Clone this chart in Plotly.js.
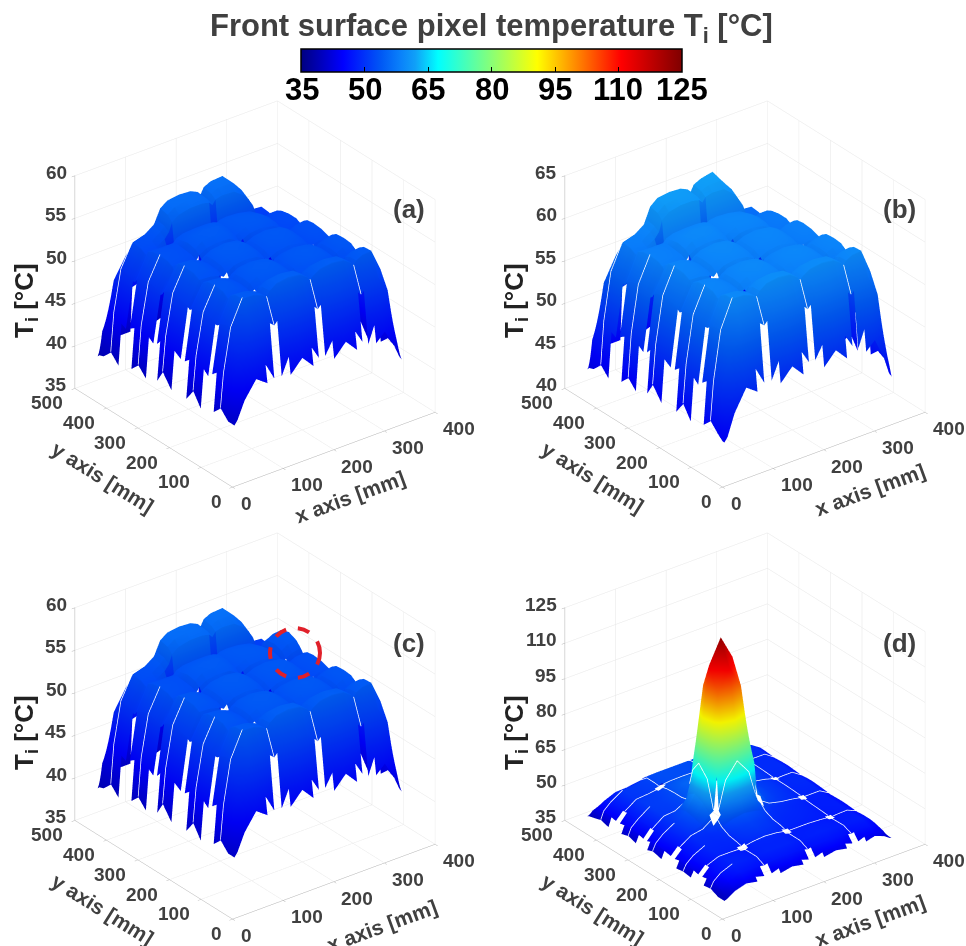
<!DOCTYPE html>
<html><head><meta charset="utf-8">
<script src="https://cdn.plot.ly/plotly-3.0.1.min.js"></script>
<style>html,body{margin:0;padding:0;background:#fff}</style></head>
<body><div id="g" style="width:966px;height:946px"></div>
<script>
var n=null;
var xNodes=[15,21,35,58,81,98,106,112,126,149,172,186,192,198,212,235,258,272,278,283,295,312,330,340,345];
var yNodes=[18,24,38,61.5,85,99,105,111,125,148.5,172,186,192,198,218,245,264,274,279,285,299,322.5,346,360,366,372,386,409.5,433,447,453];
var zA=[
[41.5,42,44,46,45,n,n,n,45,46.5,45,n,n,n,45,46.5,45,n,n,n,45,46,44,42.5,42],
[41.5,43,45.5,47.5,47,45,n,45,47,48,47,45.5,n,45.5,47,48,47,45.5,n,45,47,47.5,46,44,42.5],
[41.5,45,49,51.8,51.6,51.2,50.8,51.2,51.8,52.2,51.8,51.2,50.8,51.2,51.8,52,51.6,51,50.6,51,51.5,51.8,50,46,43],
[42.5,46.5,51.5,54.5,54.4,54,53.6,54.2,54.8,55,54.8,54.2,53.7,54.1,54.6,54.8,54.6,54,53.5,54,54.4,54.5,52,47,43.5],
[41.5,46,51.3,54.4,54.3,53.9,53.5,54.1,54.7,54.9,54.7,54.1,53.6,54,54.5,54.7,54.5,53.9,53.4,53.9,54.3,54.4,51.8,46.5,42.5],
[n,45.5,51,54,53.9,53.5,53.1,53.7,54.2,54.4,54.2,53.7,53.2,53.6,54,54.2,54,53.5,53,53.5,53.9,54,51.5,46,n],
[n,n,50.8,53.5,53.4,53,n,53.1,53.6,53.8,53.6,53.1,n,53.1,53.4,53.6,53.4,53,n,53,53.3,53.5,51,n,n],
[n,45,50.8,53.5,53.4,53.1,52.8,53.2,53.7,53.9,53.7,53.2,52.8,53.2,53.5,53.7,53.5,53.1,52.7,53,53.3,53.5,51,45.8,n],
[41,45.5,51,53.9,53.8,53.4,53.1,53.6,54.1,54.3,54.1,53.6,53.1,53.5,53.9,54.1,53.9,53.4,53,53.4,53.8,53.9,51.3,46,42],
[42.5,46.5,51.3,54,53.9,53.5,53.2,53.7,54.3,54.5,54.3,53.7,53.3,53.6,54.1,54.3,54.1,53.5,53.1,53.5,53.9,54,51.5,47,43.5],
[41,45.5,51,53.9,53.8,53.4,53.1,53.6,54.1,54.3,54.1,53.6,53.1,53.5,53.9,54.1,53.9,53.4,53,53.4,53.8,53.9,51.3,46,42],
[n,45,50.8,53.5,53.4,53.1,52.8,53.2,53.7,53.9,53.7,53.2,52.8,53.2,53.5,53.7,53.5,53.1,52.7,53,53.3,53.5,51,45.8,n],
[n,n,50.6,53,52.9,52.6,n,52.7,53.3,53.6,53.3,52.8,n,52.8,53.2,53.4,53.1,52.7,n,52.4,52.8,53,50.6,n,n],
[n,45,50.8,53.5,53.4,53.1,52.8,53.2,53.7,53.9,53.7,53.2,52.8,53.1,53.5,53.7,53.4,53,52.6,52.7,53,53.1,50.6,45.6,n],
[41,45.5,51,53.9,53.8,53.4,53.1,53.6,54.1,54.3,54.1,53.6,53.1,53.5,53.9,54,53.8,53.3,52.8,53,53.3,53.4,51,46,42],
[42.5,46.5,51.3,54,53.9,53.5,53.2,53.7,54.3,54.5,54.3,53.7,53.2,53.6,54,54.2,54,53.4,52.9,53.1,53.4,53.5,51.2,47,43.5],
[41,45.5,51,53.9,53.8,53.4,53.1,53.6,54.1,54.3,54.1,53.6,53.1,53.5,53.9,54,53.8,53.3,52.8,53,53.3,53.4,51,46,42],
[n,45,50.8,53.5,53.4,53.1,52.8,53.2,53.7,53.9,53.7,53.2,52.8,53.1,53.5,53.7,53.4,53,52.6,52.7,53,53.1,50.6,45.6,n],
[n,n,50.4,52.8,52.7,52.6,n,52.8,53.3,53.6,53.3,52.8,n,52.7,53.2,53.4,53,52.4,n,52,52.3,52.4,50,n,n],
[n,44.8,50.2,53.1,53,52.8,52.7,53.2,53.7,53.9,53.8,53.3,52.9,53.2,53.6,53.7,53.4,52.9,52.4,52.3,52.4,52.5,50.2,45.3,n],
[40.5,45.2,50.5,53.4,53.3,53.1,53,53.6,54.2,54.4,54.2,53.7,53.4,53.6,54,54.1,53.8,53.2,52.6,52.5,52.7,52.8,50.5,45.7,41.5],
[41.5,46,50.8,53.5,53.4,53.2,53.1,53.8,54.3,54.5,54.4,54,53.7,53.9,54.2,54.2,53.9,53.3,52.7,52.6,52.8,52.8,50.6,46.5,43],
[40.5,45.2,50.5,53.4,53.3,53.2,53.2,53.6,53.9,54.1,54.1,54,53.8,54,54.1,54,53.6,53.1,52.6,52.4,52.6,52.6,50.4,45.7,41.5],
[n,44.8,50.2,53.1,53,53,53,53.4,53.7,53.8,53.8,53.7,53.5,53.7,53.8,53.7,53.4,52.8,52.3,52.1,52.3,52.3,50,45.3,n],
[n,n,49.8,52.6,52.6,52.8,n,52.8,53,53.2,53.2,53,n,53,53.2,53.2,52.9,52.5,n,51.6,51.7,51.8,49.4,n,n],
[n,44.5,49.8,52.6,52.8,53.4,54,55,55.6,55.9,55.9,55.7,55.3,55.8,56,55.9,54.9,53.5,52.4,51.4,51.3,51.3,49,44.8,n],
[40,44.8,50,52.9,53.2,53.9,54.4,55.6,56.2,56.4,56.3,56,55.6,56.2,56.6,56.6,55.3,53.9,52.7,51.6,51.5,51.5,49.2,45.2,41],
[41,45.5,50.3,53,53.4,54.1,54.6,55.8,56.4,56.6,56.5,56.1,55.7,56.4,56.8,56.9,55.5,54,52.8,51.7,51.7,51.6,49.4,46,42.5],
[40,44,48.5,50.8,51.2,51.8,52.3,53,53.3,53.5,53.4,53.2,53,53.4,53.6,53.6,52.6,51.5,50.5,49.8,49.6,49.6,47.5,44.5,41.5],
[39.8,42.5,44.5,46,46.2,46.5,46.7,47.5,47.8,47.9,47.9,47.7,47.6,47.8,47.9,47.9,47.2,46.5,46,45.6,45.5,45.5,44,43,41],
[39.5,40,40.5,41,41,n,n,n,41,41.5,41,n,n,n,41,41.5,41,n,n,n,41,41,41,41,41]];
var zB=[
[44.5,45,47.5,50,49,n,n,n,49,50.5,49,n,n,n,49,50.5,49,n,n,n,49,50,47.5,45.5,45],
[44.5,46.5,49.5,52,51.5,49.5,n,49.5,51.5,52.5,51.5,50,n,50,51.5,52.5,51.5,50,n,49.5,51.5,52,50,47.5,46],
[45,49,53.5,56.8,56.6,56.2,55.8,56.2,56.8,57.2,56.8,56.2,55.8,56.2,56.8,57,56.6,56,55.6,56,56.5,56.8,54.5,50,46.5],
[46,50.5,56.2,59.5,59.4,59,58.6,59.2,59.8,60,59.8,59.2,58.7,59.1,59.6,59.8,59.6,59,58.5,59,59.4,59.5,56.7,51,47],
[45,50,56,59.4,59.3,58.9,58.5,59.1,59.7,59.9,59.7,59.1,58.6,59,59.5,59.7,59.5,58.9,58.4,58.9,59.3,59.4,56.5,50.5,46],
[n,49.5,55.7,59,58.9,58.5,58.1,58.7,59.2,59.4,59.2,58.7,58.2,58.6,59,59.2,59,58.5,58,58.5,58.9,59,56.2,50,n],
[n,n,55.5,58.5,58.4,58,n,58.1,58.6,58.8,58.6,58.1,n,58.1,58.4,58.6,58.4,58,n,58,58.3,58.5,55.7,n,n],
[n,49,55.5,58.5,58.4,58.1,57.8,58.2,58.7,58.9,58.7,58.2,57.8,58.2,58.5,58.7,58.5,58.1,57.7,58,58.3,58.5,55.7,49.8,n],
[44.5,49.5,55.7,58.9,58.8,58.4,58.1,58.6,59.1,59.3,59.1,58.6,58.1,58.5,58.9,59.1,58.9,58.4,58,58.4,58.8,58.9,56,50,45.5],
[46,50.5,56,59,58.9,58.5,58.2,58.7,59.3,59.5,59.3,58.7,58.3,58.6,59.1,59.3,59.1,58.5,58.1,58.5,58.9,59,56.2,51,47],
[44.5,49.5,55.7,58.9,58.8,58.4,58.1,58.6,59.1,59.3,59.1,58.6,58.1,58.5,58.9,59.1,58.9,58.4,58,58.4,58.8,58.9,56,50,45.5],
[n,49,55.5,58.5,58.4,58.1,57.8,58.2,58.7,58.9,58.7,58.2,57.8,58.2,58.5,58.7,58.5,58.1,57.7,58,58.3,58.5,55.7,49.8,n],
[n,n,55.3,58,57.9,57.6,n,57.7,58.3,58.6,58.3,57.8,n,57.8,58.2,58.4,58.1,57.7,n,57.4,57.8,58,55.3,n,n],
[n,49,55.5,58.5,58.4,58.1,57.8,58.2,58.7,58.9,58.7,58.2,57.8,58.1,58.5,58.7,58.4,58,57.6,57.7,58,58.1,55.3,49.6,n],
[44.5,49.5,55.7,58.9,58.8,58.4,58.1,58.6,59.1,59.3,59.1,58.6,58.1,58.5,58.9,59,58.8,58.3,57.8,58,58.3,58.4,55.7,50,45.5],
[46,50.5,56,59,58.9,58.5,58.2,58.7,59.3,59.5,59.3,58.7,58.2,58.6,59,59.2,59,58.4,57.9,58.1,58.4,58.5,55.9,51,47],
[44.5,49.5,55.7,58.9,58.8,58.4,58.1,58.6,59.1,59.3,59.1,58.6,58.1,58.5,58.9,59,58.8,58.3,57.8,58,58.3,58.4,55.7,50,45.5],
[n,49,55.5,58.5,58.4,58.1,57.8,58.2,58.7,58.9,58.7,58.2,57.8,58.1,58.5,58.7,58.4,58,57.6,57.7,58,58.1,55.3,49.6,n],
[n,n,55.1,57.8,57.7,57.6,n,57.8,58.3,58.6,58.3,57.8,n,57.7,58.2,58.4,58,57.4,n,57,57.3,57.4,54.7,n,n],
[n,48.8,54.9,58.1,58,57.8,57.7,58.2,58.7,58.9,58.8,58.3,57.9,58.2,58.6,58.7,58.4,57.9,57.4,57.3,57.4,57.5,54.9,49.3,n],
[44,49.2,55.2,58.4,58.3,58.1,58,58.6,59.2,59.4,59.2,58.7,58.4,58.6,59,59.1,58.8,58.2,57.6,57.5,57.7,57.8,55.2,49.7,45],
[45,50,55.5,58.5,58.4,58.2,58.1,58.8,59.3,59.5,59.4,59,58.7,58.9,59.2,59.2,58.9,58.3,57.7,57.6,57.8,57.8,55.3,50.5,46.5],
[44,49.2,55.2,58.4,58.3,58.2,58.2,58.6,58.9,59.1,59.1,59,58.8,59,59.1,59,58.6,58.1,57.6,57.4,57.6,57.6,55.1,49.7,45],
[n,48.8,54.9,58.1,58,58,58,58.4,58.7,58.8,58.8,58.7,58.5,58.7,58.8,58.7,58.4,57.8,57.3,57.1,57.3,57.3,54.7,49.3,n],
[n,n,54.5,57.6,57.6,57.8,n,57.8,58,58.2,58.2,58,n,58,58.2,58.2,57.9,57.5,n,56.6,56.7,56.8,54.1,n,n],
[n,48.5,54.5,57.6,57.8,58.4,59,60.2,60.9,61.2,61.2,61,60.6,61.1,61.3,61.2,60,58.5,57.4,56.4,56.3,56.3,53.7,48.8,n],
[43.5,48.8,54.7,57.9,58.2,58.9,59.4,60.8,61.5,61.7,61.6,61.3,60.9,61.5,61.9,61.9,60.4,58.9,57.7,56.6,56.5,56.5,53.9,49.2,44.5],
[44.5,49.5,55,58,58.4,59.1,59.6,61,61.7,61.9,61.8,61.4,61,61.7,62.1,62.4,60.6,59,57.8,56.7,56.7,56.6,54.1,50,46],
[43.5,48,53.2,55.8,56.2,56.8,57.3,58,58.3,58.5,58.4,58.2,58,58.4,58.6,58.6,57.6,56.5,55.5,54.8,54.6,54.6,52.2,48.5,45],
[43.3,46.5,49,51,51.2,51.5,51.7,52.5,52.8,52.9,52.9,52.7,52.6,52.8,52.9,52.9,52.2,51.5,51,50.6,50.5,50.5,48.5,47,44.5],
[43,43.5,44.5,45,45,n,n,n,45,45.5,45,n,n,n,45,45.5,45,n,n,n,45,45,45,45,44.5]];
var zC=zA.slice();
zC[18]=[n,n,50.4,52.8,52.7,52.6,n,52.8,53.3,53.6,53.3,52.8,n,52.7,53.2,53.4,53,52.4,n,52.3,52.7,52.8,50.3,n,n];
zC[19]=[n,44.8,50.2,53.1,53,52.8,52.7,53.2,53.7,53.9,53.8,53.3,52.9,53.2,53.6,53.7,53.4,52.9,52.4,52.8,53.2,53.4,50.6,45.3,n];
zC[20]=[40.5,45.2,50.5,53.4,53.3,53.1,53,53.6,54.2,54.4,54.2,53.7,53.4,53.6,54,54.1,53.8,53.2,52.8,53.4,53.9,54,51,45.7,41.5];
zC[21]=[41.5,46,50.8,53.5,53.4,53.2,53.1,53.8,54.3,54.5,54.4,54,53.7,53.9,54.2,54.2,53.9,53.3,53,53.7,54.2,54.4,51.2,46.5,43];
zC[22]=[40.5,45.2,50.5,53.4,53.3,53.2,53.2,53.6,53.9,54.1,54.1,54,53.8,54,54.1,54,53.6,53.1,52.8,53.5,54,54.1,51,45.7,41.5];
zC[23]=[n,44.8,50.2,53.1,53,53,53,53.4,53.7,53.8,53.8,53.7,53.5,53.7,53.8,53.7,53.4,52.8,52.4,52.9,53.2,53.3,50.6,45.3,n];
var zD=[
[40,40.5,42.5,44,43,n,n,n,43,44,43,n,n,n,43,44,43,n,n,n,43,44,42.5,41,40.5],
[40,41,43.5,45,44.5,43.5,n,43.5,44.5,45,44.5,43.5,n,43.5,44.5,45,44.5,43.5,n,43.5,44.5,45,43.5,41.5,40.5],
[40,42.5,45,47,46.8,46.5,46.2,46.6,47,47.2,47,46.6,46.2,46.5,46.8,47,46.7,46.3,46,46.2,46.5,46.7,45,42.5,40.5],
[41.5,44,46.5,48.5,48.4,48.1,47.8,48.2,48.5,48.6,48.5,48.2,47.8,48,48.2,48.3,48.1,47.8,47.4,47.6,47.8,47.9,46,43.5,41.5],
[41,43.5,46.3,48.4,48.3,48,47.8,48.2,48.5,48.6,48.5,48.2,47.8,48,48.1,48.2,48,47.7,47.3,47.5,47.7,47.8,46,43,41],
[n,43,46,48.2,48.1,47.9,47.7,48.2,48.6,48.8,48.6,48.2,47.8,47.9,48,48,47.8,47.5,47.2,47.4,47.6,47.7,45.8,42.7,n],
[n,n,46,48,48,47.9,n,48.4,49,49.4,49,48.4,n,48,48,48,47.7,47.4,n,47.2,47.4,47.5,45.8,n,n],
[n,43,46,48.4,48.4,48.4,48.3,49,49.6,50,49.6,49,48.5,48.4,48.3,48.2,48,47.7,47.4,47.5,47.6,47.7,45.8,42.7,n],
[41,43.5,46.3,48.7,48.7,48.8,48.8,49.6,50.2,50.6,50.2,49.7,49.1,48.9,48.7,48.5,48.2,47.9,47.6,47.7,47.8,47.9,46,43,41],
[41.5,44,46.6,49,49,49.2,49.4,50.2,51,51.6,51,50.3,49.6,49.3,49,48.8,48.5,48.1,47.8,47.9,48,48,46.2,43.5,41.5],
[41,43.8,46.5,49.2,49.4,50,51.1,51.8,52.8,53.6,52.8,51.8,51.1,50,49.5,49.1,48.7,48.3,48,48,48,48,46.1,43,41],
[n,43.3,46.3,49.4,50,51.4,53.1,54.9,57.9,60,57.9,54.9,53.1,51.4,50,49.4,49,48.5,48.2,48.1,48.2,48.2,46,42.8,n],
[n,n,46.4,49.6,50.5,53.1,n,56,67.6,74,67.6,56,n,53.1,51.1,49.9,49.2,48.6,n,48.4,48.4,48.4,46.1,n,n],
[n,43.5,46.6,50,51.8,54.9,56,70,80,88,80,70,56,54.9,51.8,50.6,49.6,48.9,48.6,48.6,48.6,48.6,46.2,43,n],
[41,44,47,50.3,52.8,58,67.6,80,102,112,102,80,67.6,58,52.8,51,50,49.2,48.8,48.8,48.9,48.9,46.5,43.5,41],
[42,44.8,47.5,50.5,53.6,60,72,88,112,122,112,88,72,60,53.6,51.4,50.3,49.5,49,49,49.2,49.2,46.8,44,42],
[41,44,47,50.4,52.8,58,67.6,80,102,112,102,80,67.6,58,52.8,51.4,50.4,49.5,49,49,49.1,49.1,46.7,43.5,41],
[n,43.5,46.8,50.4,51.8,54.9,60.9,70,80,88,80,70,60.9,54.9,52,51.3,50.4,49.5,49,49,49,49,46.5,43,n],
[n,n,46.9,50.5,51,53.1,n,60.9,67.6,74,67.6,60.9,n,53.1,52,51.2,50.3,49.4,n,48.9,49,49,46.4,n,n],
[n,43.6,47,50.6,51,52,53.5,55,58,60,58,55,53.5,52.5,52.2,51.8,50.6,49.6,49,49,49.1,49.1,46.5,43,n],
[41,44,47.3,50.8,51.2,52,53,54,55,55.6,55,54,53,52.8,52.7,52.4,51,49.9,49.2,49.2,49.2,49.2,46.7,43.5,41],
[42,45,47.6,51,51.4,52.2,53,54.2,55.4,56,55.4,54.3,53.3,53,53,52.8,51.3,50,49.4,49.4,49.4,49.4,47,44,42],
[41,44.2,47.4,50.9,51.2,52,52.7,53.6,54.4,54.8,54.4,53.8,53.2,53,53,52.8,51.3,50.1,49.5,49.4,49.4,49.4,46.9,43.5,41],
[n,43.8,47.2,50.7,51,51.6,52.2,53,53.5,53.8,53.5,53.2,52.9,52.9,52.9,52.7,51.2,50.1,49.6,49.4,49.4,49.4,46.7,43.2,n],
[n,n,47,50.4,50.8,51.3,n,52.6,52.9,53,52.9,52.7,n,52.5,52.6,52.6,51.2,50.1,n,49.5,49.4,49.4,46.7,n,n],
[n,43.8,47,50.4,50.8,51.4,51.8,52.6,52.9,53,52.9,52.7,52.4,52.7,52.8,52.8,51.6,50.4,50.2,49.8,49.6,49.6,46.8,43,n],
[40.5,44.2,47.3,50.6,51,51.5,52,52.7,53,53,53,52.9,52.6,52.9,53,53,51.9,50.6,50.4,50,49.8,49.8,47,43.5,40.5],
[41.5,44.8,47.5,50.6,51,51.6,52,52.8,53,53,53,53,52.6,53,53,53,52,50.8,50.5,50,49.8,49.8,47.2,44,42],
[40.5,43.5,46,48,48.2,48.8,49,49.6,49.8,49.8,49.8,49.8,49.6,49.8,49.8,49.8,49.2,48.4,48.2,47.8,47.6,47.6,45.8,43,40.5],
[40,41.8,43,44.5,44.6,44.8,45,45.2,45.3,45.3,45.3,45.3,45.2,45.3,45.3,45.3,45,44.6,44.5,44.3,44.2,44.2,43,41.8,40],
[39.5,40,40.5,41,41,n,n,n,41,41.5,41,n,n,n,41,41.5,41,n,n,n,41,41,41,41,40.5]];
var xTicks=[0,100,200,300,400],yTicks=[0,100,200,300,400,500];
var zTicksA=[35,40,45,50,55,60],zTicksB=[40,45,50,55,60,65],zTicksD=[35,50,65,80,95,110,125];
var cbTicks=[35,50,65,80,95,110,125];
var jet=[[0,'#00007f'],[.11,'#0000ff'],[.21,'#0058f5'],[.26,'#0a80fa'],[.3,'#10a0f8'],[.36,'#00ffff'],[.62,'#ffff00'],[.84,'#ff0000'],[1,'#7f0000']];
var S=1.277;
var FONT='Liberation Sans';
function axis(r,t){return {range:r,tickvals:t,showticklabels:false,title:{text:''},showgrid:true,gridcolor:'#e6e6e6',gridwidth:1,showline:true,linecolor:'#b0b0b0',linewidth:1,ticks:'outside',ticklen:4,tickcolor:'#b0b0b0',zeroline:false,showbackground:false,showspikes:false,autorange:false};}
function anns(zt,tx,ty){var a=[],z0=zt[0],z1=zt[zt.length-1];var st={size:19,family:FONT,color:'#404040'},tt={size:21,family:FONT,color:'#404040'};
 xTicks.forEach(function(v){a.push({x:v,y:0,z:z0,text:'<b>'+v+'</b>',showarrow:false,xshift:v?24:14,yshift:-17,font:st});});
 yTicks.forEach(function(v){a.push({x:0,y:v,z:z0,text:'<b>'+v+'</b>',showarrow:false,xshift:v?-27:-16,yshift:-15,font:st});});
 zt.forEach(function(v){a.push({x:0,y:500,z:v===z1?v-(z1-z0)*.002:v,text:'<b>'+v+'</b>',showarrow:false,xanchor:'right',xshift:-5,yshift:3,font:st});});
 a.push({x:200,y:0,z:z0,text:'<b>x axis [mm]</b>',showarrow:false,textangle:-20,xshift:tx,yshift:-ty,font:tt});
 a.push({x:0,y:250,z:z0,text:'<b>y axis [mm]</b>',showarrow:false,textangle:32,xshift:-50,yshift:-40,font:tt});
 a.push({x:0,y:500,z:(z0+z1)/2,text:'<b>T<sub>i</sub> [°C]</b>',showarrow:false,textangle:-90,xshift:-49,yshift:-19,font:{size:26,family:FONT,color:'#222'}});
 return a;}
function scene(cx,cy,zt,tx,ty){var hw=220,hh=200;var zr=[zt[0],zt[zt.length-1]];return {domain:{x:[(cx-hw)/966,(cx+hw)/966],y:[1-(cy+hh)/946,1-(cy-hh)/946]},
 xaxis:axis([0,400],xTicks),yaxis:axis([0,500],yTicks),zaxis:axis(zr,zt),aspectmode:'manual',aspectratio:{x:S,y:1.013*S,z:.95*S},
 camera:{eye:{x:-.534,y:-.695,z:.481},up:{x:0,y:0,z:1},center:{x:0,y:0,z:0},projection:{type:'orthographic'}},annotations:anns(zt,tx,ty)};}
function tr(s,z,sh){return {type:'surface',scene:s,x:xNodes,y:yNodes,z:z,cmin:35,cmax:125,colorscale:jet,showscale:sh,hoverinfo:'skip',lighting:{ambient:.95,diffuse:.1,specular:0,roughness:1,fresnel:0},
 colorbar:{orientation:'h',x:491.5/966,xanchor:'center',y:1-49/946,yanchor:'top',len:381,lenmode:'pixels',thickness:23,thicknessmode:'pixels',xpad:0,ypad:0,tickvals:cbTicks,ticks:'inside',ticklen:5,tickcolor:'#000',outlinecolor:'#000',outlinewidth:1.5,showticklabels:false}};}
// thin white seams of the pixel grid, taken from the same node values
var lobeRows=[3,9,15,21,27],seamRows=[6,12,18,24],seamCols=[6,12,18];
function seams(s,z,lift,full){var xs=[],ys=[],zs=[];
 function add(i,j){var v=z[i][j];xs.push(v==null?n:xNodes[j]-1.5);ys.push(v==null?n:yNodes[i]-1.5);zs.push(v==null?n:v+lift);}
 function brk(){xs.push(n);ys.push(n);zs.push(n);}
 lobeRows.forEach(function(i){for(var j=0;j<=3;j++)add(i,j);brk();});
 seamCols.forEach(function(j){for(var i=1;i<=3;i++)add(i,j);brk();});
 if(full){seamRows.forEach(function(i){for(var j=2;j<z[i].length-2;j++)add(i,j);brk();});
  seamCols.forEach(function(j){for(var i=3;i<z.length-2;i++)add(i,j);brk();});}
 return {type:'scatter3d',scene:s,mode:'lines',x:xs,y:ys,z:zs,line:{color:'#ffffff',width:1.5},hoverinfo:'skip',showlegend:false,connectgaps:false};}
function lab(px,py,t,f){return {xref:'paper',yref:'paper',x:px/966,y:1-py/946,xanchor:'center',yanchor:'middle',text:t,showarrow:false,font:f};}
var pa=[lab(492,28,'<b>Front surface pixel temperature T<sub>i</sub> [°C]</b>',{size:31,family:FONT,color:'#404040'})];
cbTicks.forEach(function(v){pa.push(lab(301.5+(v-35)/90*380,90,'<b>'+v+'</b>',{size:31,family:FONT,color:'#000'}));});
[['(a)',409,209],['(b)',899,209],['(c)',409,643],['(d)',899,643]].forEach(function(p){pa.push(lab(p[1],p[2],'<b>'+p[0]+'</b>',{size:26,family:FONT,color:'#404040'}));});
Plotly.newPlot('g',[tr('scene',zA,true),tr('scene2',zB,false),tr('scene3',zC,false),tr('scene4',zD,false),
 seams('scene',zA,.15,false),seams('scene2',zB,.15,false),seams('scene3',zC,.15,false),seams('scene4',zD,.4,true)],{width:966,height:946,margin:{l:0,r:0,t:0,b:0},paper_bgcolor:'#fff',showlegend:false,
 scene:scene(254.5,293.5,zTicksA,17,47),scene2:scene(744.5,293.5,zTicksB,47,40),scene3:scene(254.5,725.5,zTicksA,49,44),scene4:scene(744.5,725.5,zTicksD,47,39),
 shapes:[{type:'circle',xref:'paper',yref:'paper',x0:270/966,x1:320/966,y0:1-678/946,y1:1-628/946,line:{color:'#e0202a',width:4,dash:'dash'},layer:'above'}],
 annotations:pa},{displayModeBar:false});
</script></body></html>
